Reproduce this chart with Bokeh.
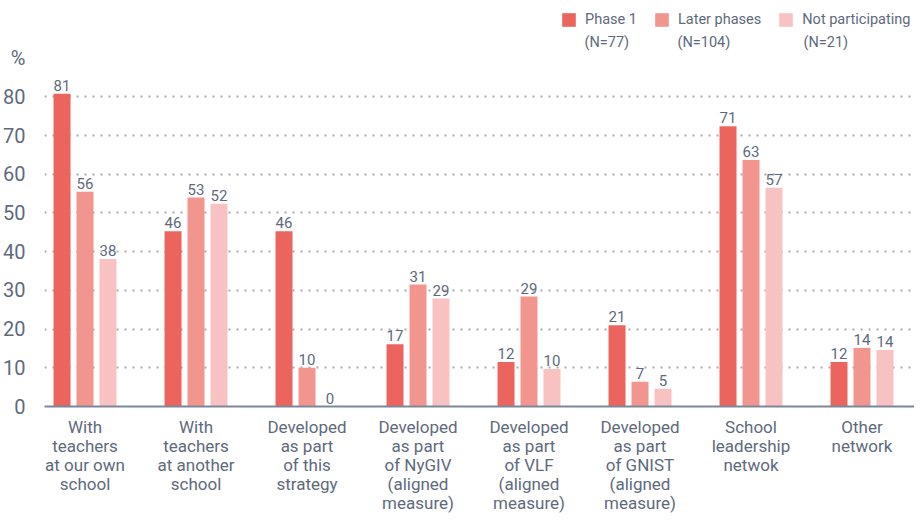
from bokeh.plotting import figure
from bokeh.models import (Range1d, FixedTicker, ColumnDataSource, Label, Legend, LegendItem)
from bokeh.core.properties import value
from bokeh.embed import file_html
from bokeh.resources import INLINE

categories = [
    "With\nteachers\nat our own\nschool",
    "With\nteachers\nat another\nschool",
    "Developed\nas part\nof this\nstrategy",
    "Developed\nas part\nof NyGIV\n(aligned\nmeasure)",
    "Developed\nas part\nof VLF\n(aligned\nmeasure)",
    "Developed\nas part\nof GNIST\n(aligned\nmeasure)",
    "School\nleadership\nnetwok",
    "Other\nnetwork",
]
series_names = ["Phase 1", "Later phases", "Not participating"]
series_n = ["(N=77)", "(N=104)", "(N=21)"]
phase1 = [80.8, 45.3, 45.3, 16.1, 11.5, 21.0, 72.4, 11.5]
later = [55.5, 54.0, 10.0, 31.5, 28.4, 6.4, 63.7, 15.1]
notpart = [38.1, 52.4, 0.0, 27.9, 9.7, 4.6, 56.5, 14.6]
phase1_labels = ["81", "46", "46", "17", "12", "21", "71", "12"]
later_labels = ["56", "53", "10", "31", "29", "7", "63", "14"]
notpart_labels = ["38", "52", "0", "29", "10", "5", "57", "14"]
y_ticks = [0, 10, 20, 30, 40, 50, 60, 70, 80]
unit_label = "%"
unit_tick = 90

colors = ["#EB645D", "#F2958E", "#F7C2C1"]
text_color = "#5E6A7D"
font = "Roboto"

# layout constants
X0, X1 = -0.365, 7.473
Y_TOP = 104.9
FRAME_H = 408
PXU = FRAME_H / Y_TOP
legend_text_px = [584, 677, 803]   # page x of legend texts

p = figure(width=914, height=515, output_backend="svg", toolbar_location=None,
           x_range=Range1d(X0, X1), y_range=Range1d(0, Y_TOP),
           min_border_left=44, min_border_right=0, min_border_top=0, min_border_bottom=105)
p.outline_line_color = None
p.background_fill_color = None
p.border_fill_color = "white"

offsets = [-0.207, 0.0, 0.207]
renderers = []
for vals, labs, off, col in zip([phase1, later, notpart],
                                [phase1_labels, later_labels, notpart_labels],
                                offsets, colors):
    xs = [i + off for i in range(len(categories))]
    src = ColumnDataSource(dict(x=xs, top=vals, lab=labs))
    r = p.vbar(x="x", top="top", width=0.153, source=src, fill_color=col, line_color=None)
    renderers.append(r)
    p.text(x="x", y="top", text="lab", source=src, text_align="center", text_baseline="bottom",
           y_offset=-3, text_font=value(font), text_font_size="15px", text_color=text_color)

# axes
p.xaxis.ticker = FixedTicker(ticks=list(range(len(categories))))
p.xaxis.major_label_overrides = {i: c for i, c in enumerate(categories)}
p.xaxis.major_label_text_font = font
p.xaxis.major_label_text_font_size = "17px"
p.xaxis.major_label_text_line_height = 0.95
p.xaxis.major_label_text_color = text_color
p.xaxis.major_label_standoff = 4
p.xaxis.major_tick_line_color = None
p.xaxis.minor_tick_line_color = None
p.xaxis.axis_line_color = "#7D8797"
p.xaxis.axis_line_width = 2

p.yaxis.ticker = FixedTicker(ticks=y_ticks + [unit_tick])
p.yaxis.major_label_overrides = {unit_tick: unit_label}
p.yaxis.major_label_text_font = font
p.yaxis.major_label_text_font_size = "20px"
p.yaxis.major_label_text_color = text_color
p.yaxis.major_label_standoff = 13
p.yaxis.major_tick_line_color = None
p.yaxis.minor_tick_line_color = None
p.yaxis.axis_line_color = None

p.xgrid.grid_line_color = None
p.ygrid.ticker = FixedTicker(ticks=y_ticks[1:])
p.ygrid.grid_line_color = "#AAAAAA"
p.ygrid.grid_line_width = 2
p.ygrid.grid_line_dash = "2 6"

legend = Legend(items=[LegendItem(label=n, renderers=[r]) for n, r in zip(series_names, renderers)],
                orientation="horizontal", location=(516, FRAME_H - 30),
                glyph_width=17, glyph_height=17, label_standoff=8, spacing=16,
                padding=0, margin=0, border_line_color=None, background_fill_alpha=0,
                label_text_font=font, label_text_font_size="14.5px", label_text_color=text_color,
                label_text_line_height=1.0)
p.add_layout(legend, "center")

for txt, px in zip(series_n, legend_text_px):
    p.add_layout(Label(x=X0 + (px - 44) / 111, y=(FRAME_H - 42) / PXU, text=txt,
                       text_font=font, text_font_size="14.5px", text_color=text_color,
                       text_align="left", text_baseline="middle"))

open("out.html", "w").write(file_html(p, INLINE))
